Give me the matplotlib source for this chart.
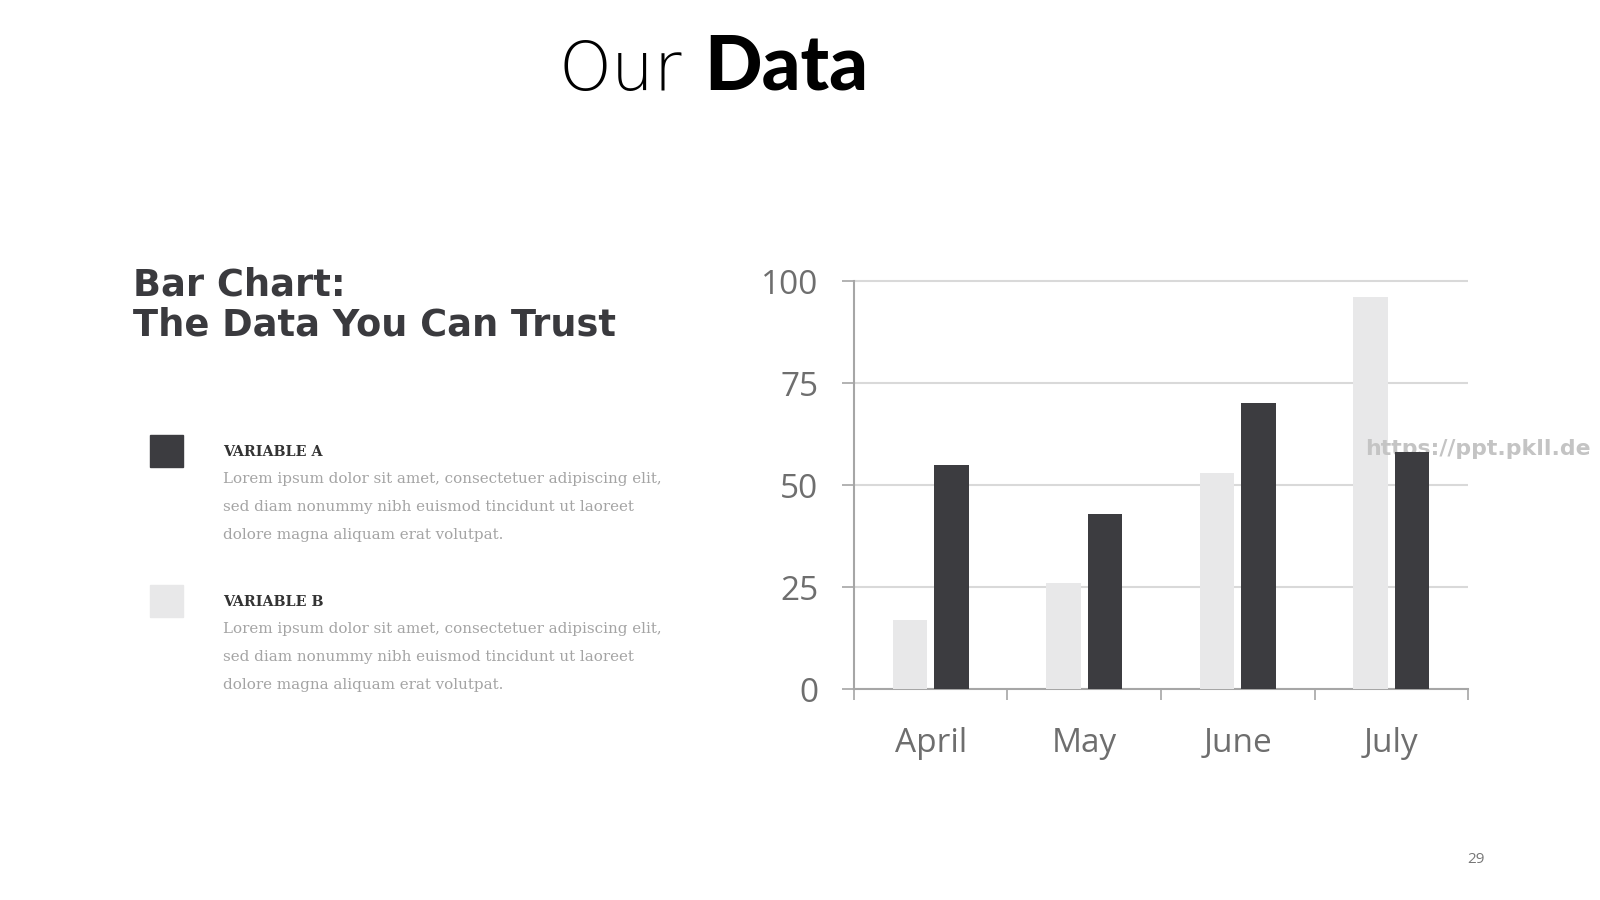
import numpy as np
import matplotlib
matplotlib.use('Agg')
from matplotlib import pyplot as plt

months = ['April', 'May', 'June', 'July']
variable_a = [55, 43, 70, 58]
variable_b = [17, 26, 53, 96]
y_ticks = [0, 25, 50, 75, 100]

dark = '#3c3c40'
light = '#e8e8e9'
lorem = ['Lorem ipsum dolor sit amet, consectetuer adipiscing elit,',
         'sed diam nonummy nibh euismod tincidunt ut laoreet',
         'dolore magna aliquam erat volutpat.']

W, H = 1600, 900
fig = plt.figure(figsize=(16, 9), dpi=100)
fig.patch.set_facecolor('white')

def px(x, y):
    return x / W, 1 - y / H

# chart area
x0, x1, y_zero, y_hundred = 854, 1468, 689, 281
ymax = 101
top = y_zero - (y_zero - y_hundred) * ymax / 100
ax = fig.add_axes([x0 / W, 1 - y_zero / H, (x1 - x0) / W, (y_zero - top) / H])

x = np.arange(len(months))
bw = 0.225
off = 0.136
ax.bar(x - off, variable_b, bw, color=light, zorder=3)
ax.bar(x + off, variable_a, bw, color=dark, zorder=4)

ax.set_xlim(-0.5, len(months) - 0.5)
ax.set_ylim(0, ymax)
ax.set_yticks(y_ticks)
ax.set_xticks(np.arange(len(months) + 1) - 0.5)
ax.set_xticklabels([])
ax.set_xticks(x, minor=True)
ax.set_xticklabels(months, minor=True)

ax.grid(axis='y', color='#d9d9d9', linewidth=1.5, zorder=0)
for s in ['top', 'right']:
    ax.spines[s].set_visible(False)
for s in ['left', 'bottom']:
    ax.spines[s].set_color('#a6a6a6')
    ax.spines[s].set_linewidth(1.5)
ax.spines['left'].set_bounds(0, 100)

ax.tick_params(axis='y', length=8.5, width=1.2, color='#a6a6a6', pad=17,
               labelsize=24, labelcolor='#6e6e6e')
ax.tick_params(axis='x', which='major', length=8, width=1.2, color='#a6a6a6')
ax.tick_params(axis='x', which='minor', length=0, pad=27,
               labelsize=24, labelcolor='#6e6e6e')
for lab in ax.get_yticklabels() + ax.get_xticklabels(minor=True):
    lab.set_family('Open Sans')

# watermark sits between the two bar series
ax.text(*px(1365, 455), 'https://ppt.pkll.de', transform=fig.transFigure,
        ha='left', va='baseline', fontsize=15.8, family='DejaVu Sans',
        weight='bold', color='#c4c4c4', zorder=3.5, clip_on=False)

# title
fig.text(*px(682, 90), 'Our', ha='right', va='baseline', fontsize=48.5,
         family='DejaVu Sans', weight='light', color='black')
fig.text(*px(704, 90), 'Data', ha='left', va='baseline', fontsize=54.5,
         family='Lato', weight='black', color='black')

# subtitle
fig.text(*px(133, 296), 'Bar Chart:', ha='left', va='baseline', fontsize=26.5,
         family='DejaVu Sans', weight='bold', color='#3a3a3e')
fig.text(*px(133, 336), 'The Data You Can Trust', ha='left', va='baseline',
         fontsize=26.5, family='DejaVu Sans', weight='bold', color='#3a3a3e')

# legend blocks
blocks = [('VARIABLE A', dark, 435, 456, 483), ('VARIABLE B', light, 585, 606, 633)]
for name, col, sq_y, name_y, body_y in blocks:
    fig.patches.append(plt.Rectangle(px(150, sq_y + 32), 33 / W, 32 / H,
                                     transform=fig.transFigure, color=col))
    fig.text(*px(223, name_y), name, ha='left', va='baseline', fontsize=10.3,
             family='DejaVu Serif', weight='bold', color='#333333')
    for i, line in enumerate(lorem):
        fig.text(*px(223, body_y + 28 * i), line, ha='left', va='baseline',
                 fontsize=10.9, family='DejaVu Serif', color='#a4a4a4')

fig.text(*px(1476, 863), '29', ha='center', va='baseline', fontsize=11,
         family='Open Sans', color='#777777')

fig.savefig('out.png', dpi=100, facecolor='white')
